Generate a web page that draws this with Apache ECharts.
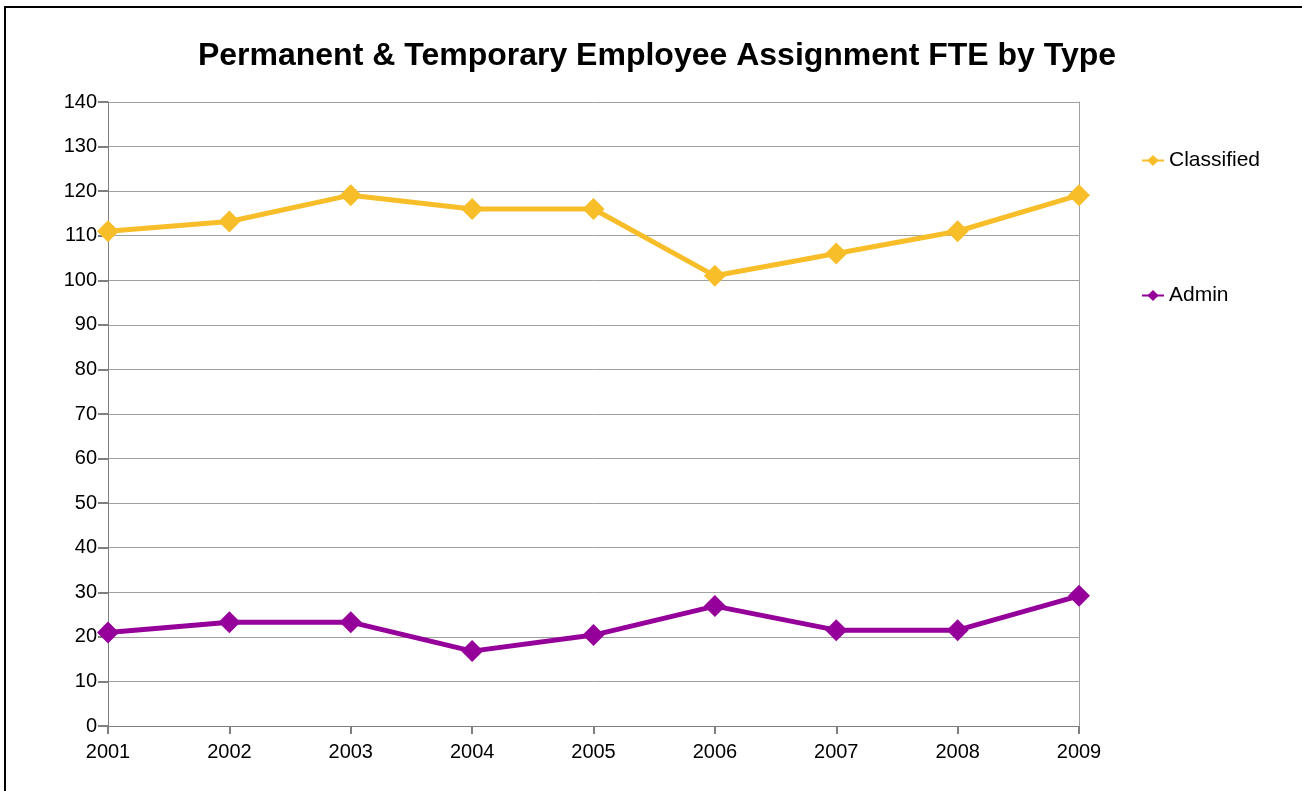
<!DOCTYPE html>
<html>
<head>
<meta charset="utf-8">
<script src="https://cdn.jsdelivr.net/npm/echarts@6/dist/echarts.min.js"></script>
<style>
html,body{margin:0;padding:0;background:#fff;}
#chart{width:1302px;height:791px;}
</style>
</head>
<body>
<div id="chart"></div>
<script>
const years = ['2001','2002','2003','2004','2005','2006','2007','2008','2009'];
const classified = [111, 113.2, 119.1, 116, 116, 101, 106, 111, 119.1];
const admin = [21, 23.3, 23.3, 16.8, 20.4, 26.9, 21.5, 21.5, 29.2];
const yMin = 0, yMax = 140, yStep = 10;

const font = '"Liberation Sans", Arial, sans-serif';
const chart = echarts.init(document.getElementById('chart'), null, {renderer: 'canvas'});
chart.setOption({
  backgroundColor: '#fff',
  animation: false,
  title: {
    text: 'Permanent & Temporary Employee Assignment FTE by Type',
    left: 652, top: 35, textAlign: 'center',
    textStyle: {fontFamily: font, fontSize: 32, fontWeight: 'bold', color: '#000'}
  },
  graphic: [{
    type: 'rect', z: 100, silent: true,
    shape: {x: 5, y: 7, width: 1310, height: 800},
    style: {fill: 'none', stroke: '#000', lineWidth: 2}
  }],
  legend: {
    orient: 'vertical', left: 1136, top: 145,
    itemWidth: 22, itemHeight: 14, itemGap: 114,
    textStyle: {fontFamily: font, fontSize: 21, color: '#000'},
    data: ['Classified', 'Admin']
  },
  grid: {left: 108, right: 223, top: 102, bottom: 65, containLabel: false},
  xAxis: {
    type: 'category', data: years, boundaryGap: false,
    axisLine: {lineStyle: {color: '#7f7f7f', width: 1}},
    axisTick: {show: true, alignWithLabel: true, length: 8, lineStyle: {color: '#7f7f7f', width: 2}},
    axisLabel: {fontFamily: font, fontSize: 20, color: '#000', margin: 16},
    splitLine: {show: false}
  },
  yAxis: [{
    type: 'value', min: yMin, max: yMax, interval: yStep,
    axisLine: {show: true, lineStyle: {color: '#7f7f7f', width: 1}},
    axisTick: {show: true, length: 10, lineStyle: {color: '#7f7f7f', width: 2}},
    axisLabel: {fontFamily: font, fontSize: 20, color: '#000', margin: 11},
    splitLine: {show: true, lineStyle: {color: '#a0a0a0', width: 1}}
  }, {
    type: 'value', min: yMin, max: yMax, interval: yStep, position: 'right',
    axisLine: {show: true, lineStyle: {color: '#a0a0a0', width: 1}},
    axisTick: {show: false}, axisLabel: {show: false}, splitLine: {show: false}
  }],
  series: [{
    name: 'Classified', type: 'line', data: classified,
    symbol: 'diamond', symbolSize: 22, showAllSymbol: true,
    itemStyle: {color: '#F8BE2A'},
    lineStyle: {color: '#F8BE2A', width: 5}
  }, {
    name: 'Admin', type: 'line', data: admin,
    symbol: 'diamond', symbolSize: 22, showAllSymbol: true,
    itemStyle: {color: '#95009A'},
    lineStyle: {color: '#95009A', width: 5}
  }]
});
</script>
</body>
</html>
